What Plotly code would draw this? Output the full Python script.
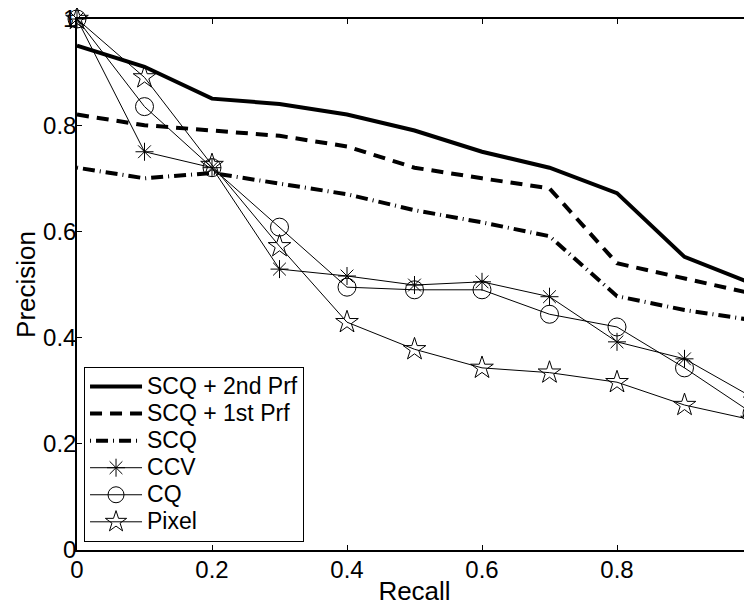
import plotly.graph_objects as go

recall = [0, 0.1, 0.2, 0.3, 0.4, 0.5, 0.6, 0.7, 0.8, 0.9, 1.0]

scq_2nd = [0.95, 0.91, 0.85, 0.84, 0.82, 0.79, 0.75, 0.72, 0.672, 0.552, 0.502]
scq_1st = [0.82, 0.80, 0.79, 0.78, 0.76, 0.72, 0.70, 0.681, 0.54, 0.512, 0.483]
scq = [0.72, 0.70, 0.71, 0.69, 0.67, 0.64, 0.617, 0.591, 0.478, 0.452, 0.433]
ccv = [1.0, 0.75, 0.72, 0.529, 0.516, 0.499, 0.505, 0.477, 0.392, 0.36, 0.288]
cq = [1.0, 0.835, 0.72, 0.608, 0.495, 0.49, 0.49, 0.444, 0.42, 0.343, 0.258]
pixel = [1.0, 0.89, 0.725, 0.572, 0.429, 0.378, 0.343, 0.334, 0.316, 0.273, 0.245]

series_names = ["SCQ + 2nd Prf", "SCQ + 1st Prf", "SCQ", "CCV", "CQ", "Pixel"]

tick_vals = [0, 0.2, 0.4, 0.6, 0.8, 1.0]
tick_text = ["0", "0.2", "0.4", "0.6", "0.8", "1"]

FONT = "Liberation Sans, Arial, sans-serif"


def lname(s):
    return '<span style="font-size:23px">' + s + '</span>'


fig = go.Figure()

fig.add_trace(go.Scatter(x=recall, y=scq_2nd, mode="lines", name=lname(series_names[0]),
                         line=dict(color="black", width=4), cliponaxis=False))
fig.add_trace(go.Scatter(x=recall, y=scq_1st, mode="lines", name=lname(series_names[1]),
                         line=dict(color="black", width=4, dash="12px,8px"), cliponaxis=False))
fig.add_trace(go.Scatter(x=recall, y=scq, mode="lines", name=lname(series_names[2]),
                         line=dict(color="black", width=4, dash="1px,5px,12px,5px"), cliponaxis=False))
fig.add_trace(go.Scatter(x=recall, y=ccv, mode="lines+markers", name=lname(series_names[3]),
                         line=dict(color="black", width=1),
                         marker=dict(symbol="asterisk-open", size=15, color="black",
                                     line=dict(color="black", width=1)),
                         cliponaxis=False))
fig.add_trace(go.Scatter(x=recall, y=cq, mode="lines+markers", name=lname(series_names[4]),
                         line=dict(color="black", width=1),
                         marker=dict(symbol="circle-open", size=18, color="black",
                                     line=dict(color="black", width=1)),
                         cliponaxis=False))
fig.add_trace(go.Scatter(x=recall, y=pixel, mode="lines+markers", name=lname(series_names[5]),
                         line=dict(color="black", width=1),
                         marker=dict(symbol="star-open", size=17, color="black",
                                     line=dict(color="black", width=1)),
                         cliponaxis=False))

axis_common = dict(
    range=[0, 1], tickvals=tick_vals, ticktext=tick_text,
    ticks="inside", ticklen=5, tickwidth=1, tickcolor="black",
    showline=True, linecolor="black", linewidth=1.5, mirror="ticks",
    showgrid=False, zeroline=False, automargin=False,
    ticklabeloverflow="allow",
    tickfont=dict(family=FONT, size=24, color="black"),
)

# page body adds an 8px offset, so the figure is sized 744x602
fig.update_layout(
    width=744, height=602,
    margin=dict(l=69, r=0, t=11, b=60),
    paper_bgcolor="white", plot_bgcolor="white",
    font=dict(family=FONT, color="black"),
    xaxis=dict(**axis_common, ticklabelstandoff=-3,
               title=dict(text="Recall", font=dict(family=FONT, size=26, color="black"), standoff=0)),
    yaxis=dict(**axis_common, ticklabelstandoff=-6,
               title=dict(text="Precision", font=dict(family=FONT, size=26, color="black"), standoff=0)),
    legend=dict(x=0.0104, y=0.015, xanchor="left", yanchor="bottom",
                bgcolor="white", bordercolor="black", borderwidth=1,
                font=dict(family=FONT, size=18.5, color="black"),
                itemwidth=52),
    showlegend=True,
)

fig.write_html("out.html")
